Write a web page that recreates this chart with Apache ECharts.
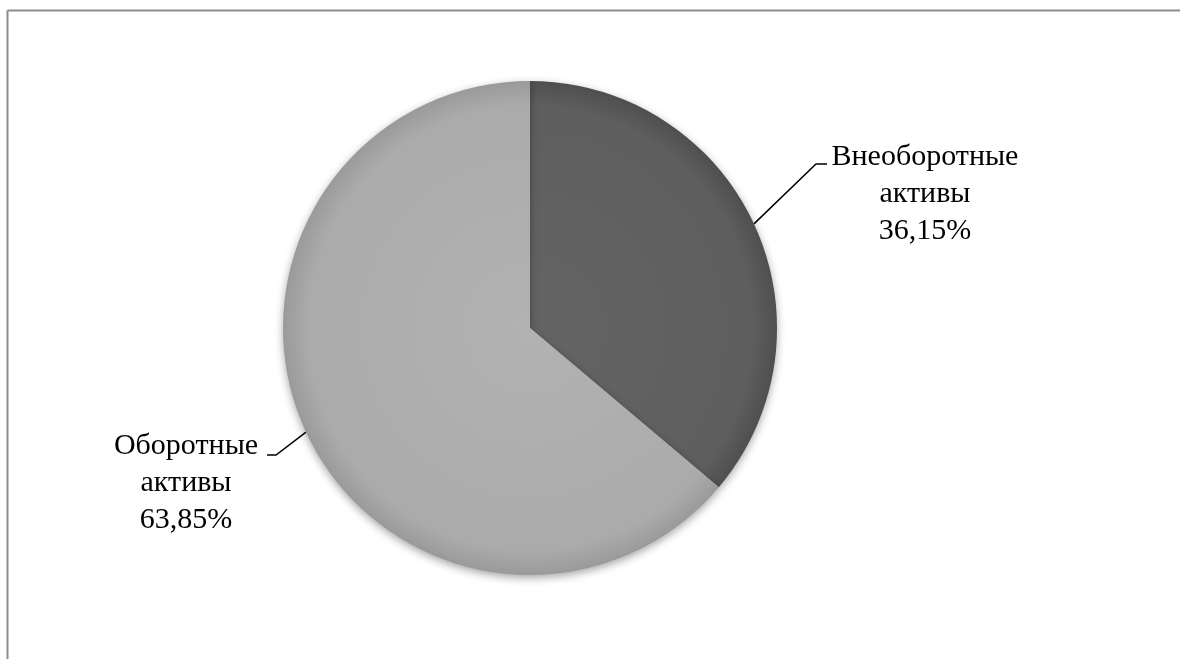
<!DOCTYPE html>
<html>
<head>
<meta charset="utf-8">
<script src="https://cdn.jsdelivr.net/npm/echarts@6/dist/echarts.min.js"></script>
<style>
html,body{margin:0;padding:0;background:#fff;}
#chart{width:1180px;height:659px;}
</style>
</head>
<body>
<div id="chart"></div>
<script>
var categories = ['Внеоборотные\nактивы', 'Оборотные\nактивы'];
var values = [36.15, 63.85];
var valueLabels = ['36,15%', '63,85%'];
var sliceColors = [
  ['#646464', '#5e5e5e', '#4f4f4f'],
  ['#b2b2b2', '#ababab', '#9a9a9a']
];

var CX = 530, CY = 328, R = 247;

var chart = echarts.init(document.getElementById('chart'));

var data = categories.map(function (c, i) {
  var cs = sliceColors[i];
  return {
    name: c,
    value: values[i],
    itemStyle: {
      color: {
        type: 'radial', x: CX, y: CY, r: R, global: true,
        colorStops: [
          { offset: 0, color: cs[0] },
          { offset: 0.9, color: cs[1] },
          { offset: 1, color: cs[2] }
        ]
      }
    }
  };
});

chart.setOption({
  animation: false,
  backgroundColor: '#ffffff',
  graphic: [
    { type: 'line', shape: { x1: 7.5, y1: 10.5, x2: 1180, y2: 10.5 }, style: { stroke: '#8c8c8c', lineWidth: 2 } },
    { type: 'line', shape: { x1: 7.5, y1: 10.5, x2: 7.5, y2: 659 }, style: { stroke: '#8c8c8c', lineWidth: 2 } }
  ],
  series: [{
    type: 'pie',
    startAngle: 90,
    clockwise: true,
    center: [CX + 'px', CY + 'px'],
    radius: ['0%', R + 'px'],
    avoidLabelOverlap: false,
    data: data,
    itemStyle: {
      shadowBlur: 8,
      shadowOffsetY: 3,
      shadowColor: 'rgba(0,0,0,0.35)'
    },
    label: {
      show: true,
      position: 'outside',
      formatter: function (p) { return p.name + '\n' + valueLabels[p.dataIndex]; },
      fontFamily: 'Liberation Serif',
      fontSize: 30,
      lineHeight: 37,
      color: '#000000',
      align: 'center'
    },
    labelLine: {
      show: true,
      length: 20,
      length2: 10,
      lineStyle: { color: '#000000', width: 1.5 }
    },
    labelLayout: function (params) {
      var pts = params.labelLinePoints;
      if (!pts) return {};
      var p0 = pts[0];
      var elbow, end, lx, ly;
      if (params.dataIndex === 0) {
        elbow = [p0[0] + 62, p0[1] - 60];
        end = [elbow[0] + 11, elbow[1]];
        lx = end[0] + 98;
        ly = end[1] - 25;
      } else {
        elbow = [p0[0] - 30, p0[1] + 23];
        end = [elbow[0] - 9, elbow[1]];
        lx = end[0] - 81;
        ly = end[1] - 27;
      }
      return {
        x: lx, y: ly, align: 'center', verticalAlign: 'top',
        labelLinePoints: [p0, elbow, end]
      };
    }
  }]
});
</script>
</body>
</html>
